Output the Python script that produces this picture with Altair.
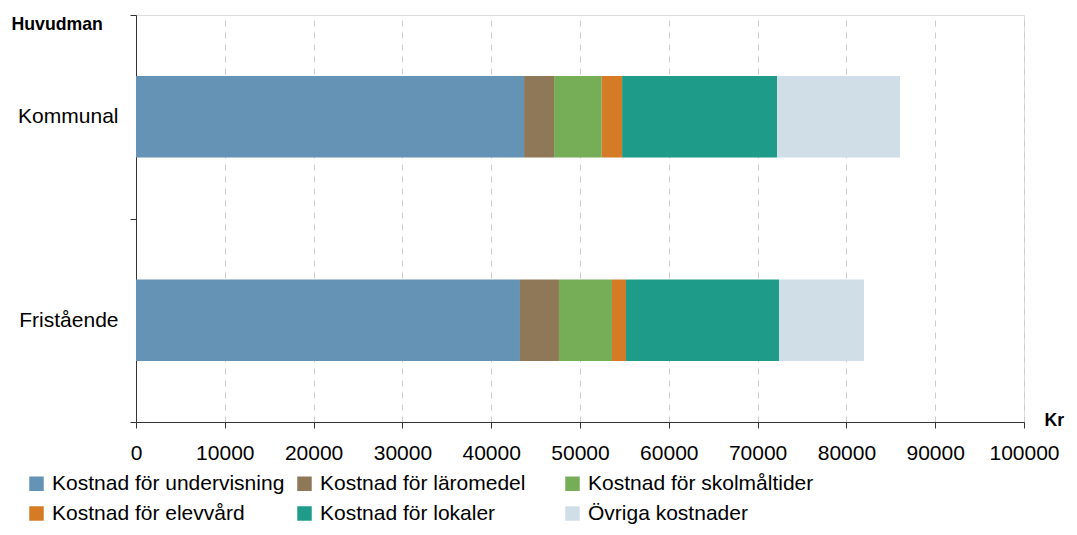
import altair as alt
import pandas as pd

huvudman = ["Kommunal", "Fristående"]
kategorier = [
    "Kostnad för undervisning",
    "Kostnad för läromedel",
    "Kostnad för skolmåltider",
    "Kostnad för elevvård",
    "Kostnad för lokaler",
    "Övriga kostnader",
]
kommunal = [43700, 3380, 5370, 2290, 17450, 13850]
friståend = [43240, 4390, 5970, 1580, 17230, 9570]
farger = ["#6593b5", "#8f7858", "#76ae57", "#d57b26", "#1f9c89", "#d0dee8"]
x_ticks = [0, 10000, 20000, 30000, 40000, 50000, 60000, 70000, 80000, 90000, 100000]

rows = []
for h, vals in zip(huvudman, [kommunal, friståend]):
    for i, (k, v) in enumerate(zip(kategorier, vals)):
        rows.append({"Huvudman": h, "Kategori": k, "Kr": v, "ordning": i})
df = pd.DataFrame(rows)

FONT = "Liberation Sans"

chart = alt.Chart(df).mark_bar(height=alt.RelativeBandSize(band=0.4)).encode(
    y=alt.Y(
        "Huvudman:N",
        sort=huvudman,
        scale=alt.Scale(paddingInner=0, paddingOuter=0),
        axis=alt.Axis(
            title="Huvudman",
            titleAngle=0,
            titleAlign="left",
            titleBaseline="middle",
            titleX=-125,
            titleY=9.5,
            titleFont=FONT,
            titleFontSize=17.7,
            titleFontWeight="bold",
            titleColor="#000",
            labelFont=FONT,
            labelFontSize=21,
            labelColor="#000",
            labelPadding=12,
            tickBand="extent",
            tickSize=6,
            tickColor="#333",
            domainColor="#333",
            grid=False,
        ),
    ),
    x=alt.X(
        "Kr:Q",
        stack="zero",
        scale=alt.Scale(domain=[0, 100000]),
        axis=alt.Axis(
            title="Kr",
            titleAlign="left",
            titleBaseline="middle",
            titleX=908,
            titleY=-2,
            titleFont=FONT,
            titleFontSize=17.7,
            titleFontWeight="bold",
            titleColor="#000",
            values=x_ticks,
            format="d",
            labelFont=FONT,
            labelFontSize=21,
            labelColor="#000",
            labelPadding=14,
            labelOverlap=False,
            labelFlush=False,
            tickSize=6,
            tickColor="#333",
            domainColor="#333",
            grid=True,
            gridColor="#cccccc",
            gridDash=[6, 6],
            gridWidth=1,
        ),
    ),
    color=alt.Color(
        "Kategori:N",
        sort=kategorier,
        scale=alt.Scale(domain=kategorier, range=farger),
        legend=alt.Legend(
            title=None,
            orient="none",
            legendX=-110,
            legendY=458,
            direction="horizontal",
            columns=3,
            gridAlign="all",
            columnPadding=9,
            rowPadding=8,
            symbolType="square",
            symbolSize=210,
            symbolStrokeWidth=0,
            symbolOpacity=1,
            labelFont=FONT,
            labelFontSize=21,
            labelColor="#000",
            labelOffset=5,
            labelLimit=400,
        ),
    ),
    order=alt.Order("ordning:Q", sort="ascending"),
).properties(
    width=888,
    height=407,
    autosize=alt.AutoSizeParams(type="none"),
    padding={"left": 128, "top": 7, "right": 45, "bottom": 105},
).configure_view(stroke=None).configure(background="white")

chart.save("out.html", embed_options={"renderer": "svg", "actions": False})
